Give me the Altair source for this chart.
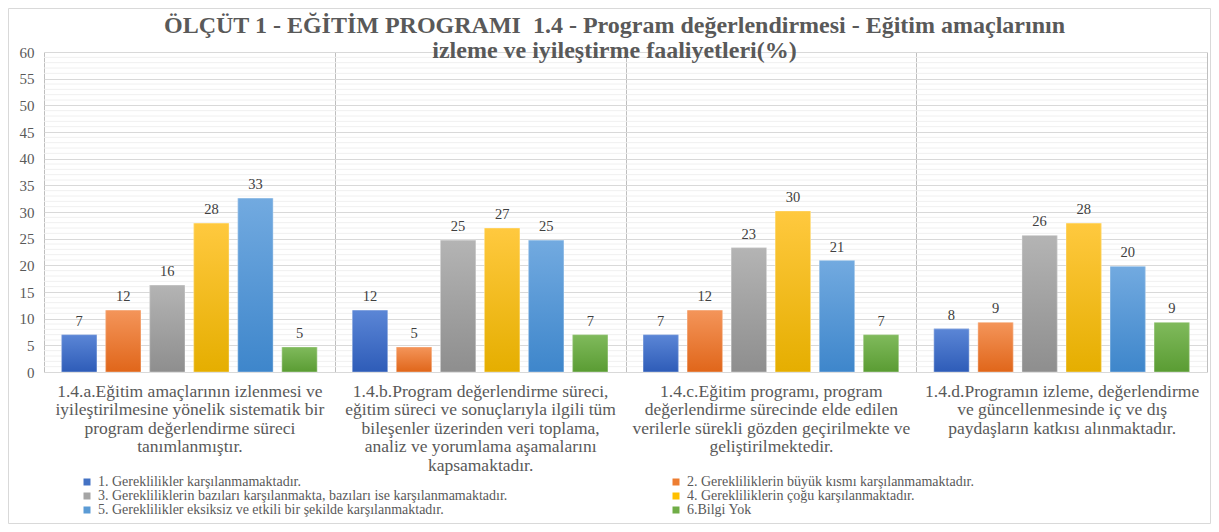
import altair as alt
import pandas as pd

# ---------------- data ----------------
category_lines = [
    ["1.4.a.Eğitim amaçlarının izlenmesi ve", "iyileştirilmesine yönelik sistematik bir",
     "program değerlendirme süreci", "tanımlanmıştır."],
    ["1.4.b.Program değerlendirme süreci,", "eğitim süreci ve sonuçlarıyla ilgili tüm",
     "bileşenler üzerinden veri toplama,", "analiz ve yorumlama aşamalarını", "kapsamaktadır."],
    ["1.4.c.Eğitim programı, program", "değerlendirme sürecinde elde edilen",
     "verilerle sürekli gözden geçirilmekte ve", "geliştirilmektedir."],
    ["1.4.d.Programın izleme, değerlendirme", "ve güncellenmesinde iç ve dış",
     "paydaşların katkısı alınmaktadır."],
]
categories = ["|".join(lines) for lines in category_lines]

series = [
    "1. Gereklilikler karşılanmamaktadır.",
    "2. Gerekliliklerin büyük kısmı karşılanmamaktadır.",
    "3. Gerekliliklerin bazıları karşılanmakta, bazıları ise karşılanmamaktadır.",
    "4. Gerekliliklerin çoğu karşılanmaktadır.",
    "5. Gereklilikler eksiksiz ve etkili bir şekilde karşılanmaktadır.",
    "6.Bilgi Yok",
]

values_a = [7.0, 11.6, 16.3, 27.9, 32.6, 4.7]
values_b = [11.6, 4.7, 24.7, 27.0, 24.7, 7.0]
values_c = [7.0, 11.6, 23.3, 30.2, 20.9, 7.0]
values_d = [8.1, 9.3, 25.6, 27.9, 19.8, 9.3]
all_values = [values_a, values_b, values_c, values_d]

colors = ["#4472C4", "#ED7D31", "#A5A5A5", "#FFC000", "#5B9BD5", "#70AD47"]
grad_top = ["#5B86D6", "#F4955A", "#B4B4B4", "#FFC93F", "#72AAE0", "#80BA5C"]
grad_bottom = ["#2E5CB8", "#E0661A", "#8E8E8E", "#E5AE00", "#3E86CB", "#5A9C33"]

minor_ticks = [v for v in range(0, 61) if v % 5 != 0]
major_ticks = list(range(0, 61, 5))

title_lines = ["ÖLÇÜT 1 - EĞİTİM PROGRAMI\u00a0 1.4 - Program değerlendirmesi - Eğitim amaçlarının",
               "izleme ve iyileştirme faaliyetleri(%)"]

rows = []
for cat, vals in zip(categories, all_values):
    for s, v in zip(series, vals):
        rows.append({"cat": cat, "series": s, "value": v})
df = pd.DataFrame(rows)

# ---------------- chart ----------------
SERIF = "'Liberation Serif', 'Times New Roman', Times, serif"
TXT = "#595959"
W, H = 1163, 320

x_enc = alt.X(
    "cat:N", sort=categories,
    scale=alt.Scale(paddingInner=0, paddingOuter=0),
    axis=alt.Axis(
        title=None, labelExpr="split(datum.label, '|')", tickBand="extent",
        grid=True, gridColor="#BFBFBF", domainColor="#D9D9D9", ticks=False,
        labelAngle=0, labelFont=SERIF, labelFontSize=17.5, labelColor=TXT,
        labelLineHeight=18.5, labelPadding=10, labelLimit=1000, labelBaseline="top",
    ),
)
xo_enc = alt.XOffset(
    "series:N", sort=series,
    scale=alt.Scale(domain=series, paddingInner=0.2, paddingOuter=0.4),
)
y_enc = alt.Y(
    "value:Q",
    scale=alt.Scale(domain=[0, 60], nice=False),
    axis=alt.Axis(
        values=major_ticks, title=None, grid=True, gridColor="#D9D9D9",
        domain=False, ticks=False, labelFont=SERIF, labelFontSize=15,
        labelColor=TXT, labelPadding=10, labelOverlap=False,
    ),
)

minor_df = pd.DataFrame({"value": minor_ticks})
minor = alt.Chart(minor_df).mark_rule(color="#F0F0F0", strokeWidth=1).encode(y=y_enc)

base_bars = alt.Chart(df).mark_bar().encode(
    x=x_enc, xOffset=xo_enc, y=y_enc,
    color=alt.Color(
        "series:N", sort=series,
        scale=alt.Scale(domain=series, range=colors),
        legend=alt.Legend(
            title=None, orient="none", legendX=36, legendY=423, columns=2,
            direction="horizontal",
            columnPadding=161, rowPadding=0, symbolType="square", symbolSize=49,
            symbolStrokeWidth=0, labelFont=SERIF, labelFontSize=14,
            labelColor=TXT, labelLimit=1000, padding=0, symbolOffset=0,
        ),
    ),
)

grad_layers = []
for s, top, bot in zip(series, grad_top, grad_bottom):
    g = alt.Gradient(
        gradient="linear",
        stops=[alt.GradientStop(color=top, offset=0), alt.GradientStop(color=bot, offset=1)],
        x1=0, x2=0, y1=0, y2=1,
    )
    grad_layers.append(
        alt.Chart(df)
        .transform_filter(alt.FieldEqualPredicate(field="series", equal=s))
        .mark_bar(fill=g, stroke="#FFFFFF", strokeOpacity=0.35, strokeWidth=1)
        .encode(x=x_enc, xOffset=xo_enc, y=y_enc)
    )

labels = alt.Chart(df).mark_text(
    baseline="bottom", dy=-6, font=SERIF, fontSize=14.5, color="#404040"
).encode(
    x=x_enc, xOffset=xo_enc, y=y_enc, text=alt.Text("value:Q", format=".0f"),
)

frame = alt.Chart(pd.DataFrame({"k": [0]})).mark_rect(
    fillOpacity=0, stroke="#D9D9D9", strokeWidth=1
).encode(
    x=alt.value(-35.5), x2=alt.value(W + 3.5), y=alt.value(-43.5), y2=alt.value(H + 151.5)
)

chart = alt.layer(minor, base_bars, *grad_layers, labels, frame).properties(
    width=W, height=H,
    autosize=alt.AutoSizeParams(type="none"),
    padding={"left": 36, "top": 44, "right": 4, "bottom": 152},
    title=alt.TitleParams(
        text=title_lines, font=SERIF, fontSize=24, fontWeight="bold", color=TXT,
        anchor="middle", lineHeight=25, offset=-55, dx=-11,
    ),
).configure_view(stroke=None)

chart.save("out.html", embed_options={"renderer": "svg", "actions": False})
